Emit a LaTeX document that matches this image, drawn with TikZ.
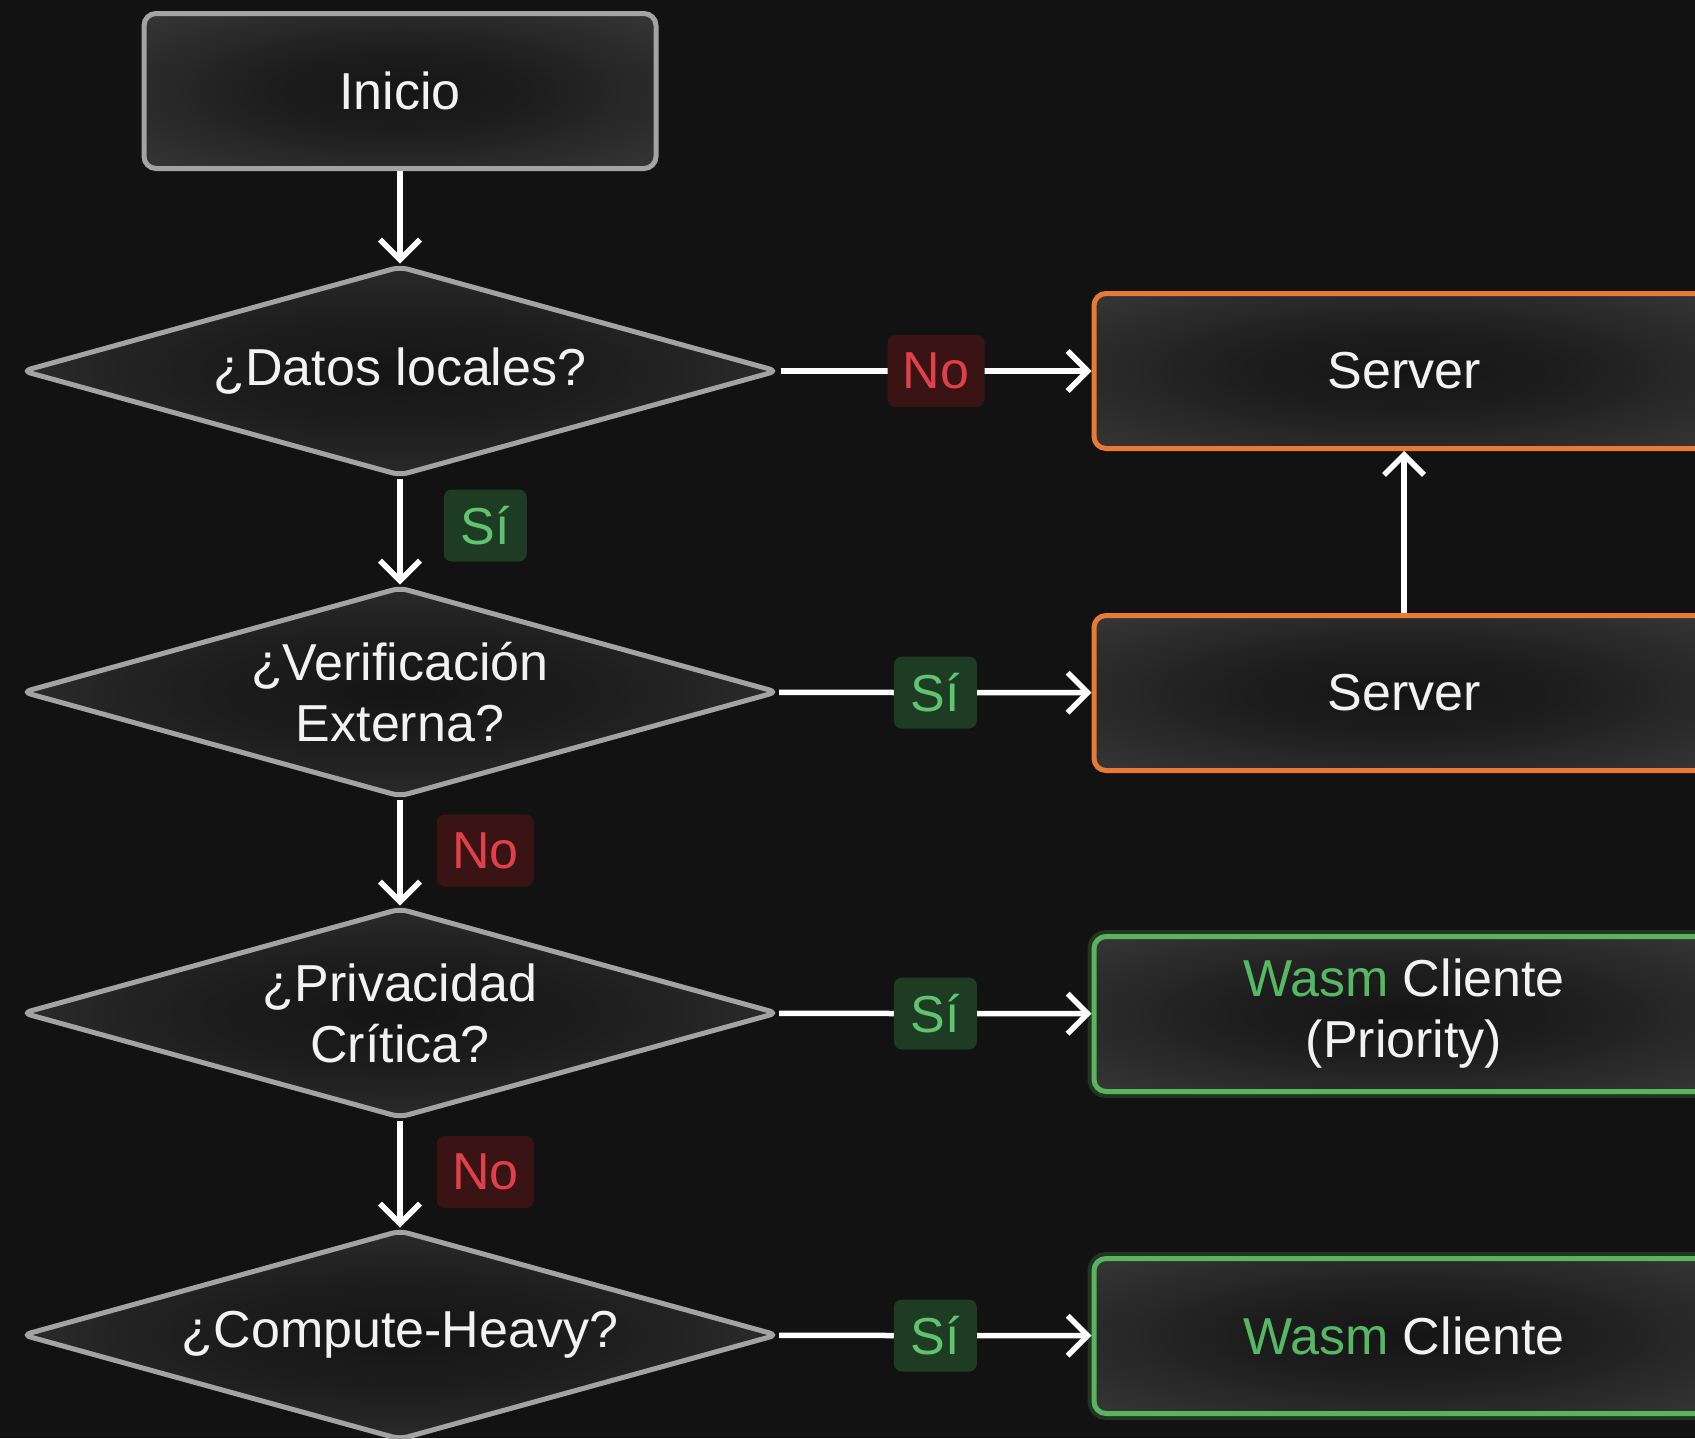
\documentclass[tikz,border=0pt]{standalone}
\usepackage{fontspec}
\setmainfont{Liberation Sans}
\usetikzlibrary{shapes.geometric,arrows.meta}

\definecolor{bg}{HTML}{121212}
\definecolor{fillcore}{HTML}{151515}
\definecolor{fillmid}{HTML}{1E1E1E}
\definecolor{filledge}{HTML}{474747}
\definecolor{fillcorner}{HTML}{575757}
\definecolor{greyline}{HTML}{A3A3A3}
\definecolor{orangeline}{HTML}{E87A34}
\definecolor{greenline}{HTML}{5AB45F}
\definecolor{wasmgreen}{HTML}{55B862}
\definecolor{nobg}{HTML}{3A1315}
\definecolor{nored}{HTML}{E0404A}
\definecolor{sibg}{HTML}{1D3C23}
\definecolor{sigreen}{HTML}{60C46E}
\definecolor{txt}{HTML}{F2F2F2}

% dark fill that brightens towards the edges
\pgfdeclareradialshading{nodeglow}{\pgfpoint{0bp}{0bp}}{%
  color(0bp)=(fillcore); color(14bp)=(fillmid); color(50bp)=(filledge); color(72bp)=(fillcorner)}

\tikzset{
  every node/.style={font=\fontsize{52}{61}\selectfont, text=txt},
  boxbase/.style={rectangle, rounded corners=12pt, line width=5pt,
    shading=nodeglow, minimum height=155pt, align=center},
  startbox/.style={boxbase, draw=greyline, minimum width=512pt},
  serverbox/.style={boxbase, draw=orangeline, minimum width=620pt},
  clientbox/.style={boxbase, draw=greenline, minimum width=620pt,
    preaction={draw=greenline, draw opacity=0.22, line width=13pt, rounded corners=12pt}},
  decision/.style={diamond, draw=greyline, line width=5pt, rounded corners=8pt,
    shading=nodeglow, minimum width=756pt, minimum height=210pt, inner sep=0pt},
  dtext/.style={align=center},
  flow/.style={draw=white, line width=5.5pt,
    -{Straight Barb[length=20pt,width=40pt,line width=5.5pt]}},
  nolab/.style={fill=nobg, text=nored, rounded corners=8pt, minimum width=97pt,
    minimum height=72pt, inner sep=0pt},
  silab/.style={fill=sibg, text=sigreen, rounded corners=8pt, minimum width=83pt,
    minimum height=72pt, inner sep=0pt},
}

\begin{document}
\begin{tikzpicture}[x=1pt,y=-1pt]
  \fill[bg] (0,0) rectangle (1695,1438);
  \useasboundingbox (0,0) rectangle (1695,1438);
  \clip (0,0) rectangle (1695,1438);

  % decision column
  \node[startbox] (start) at (400,91) {Inicio};
  \node[decision, label={[dtext]center:{¿Datos locales?}}] (d1) at (400,371) {};
  \node[decision, label={[dtext]center:{¿Verificación\\Externa?}}] (d2) at (400,692) {};
  \node[decision, label={[dtext]center:{¿Privacidad\\Crítica?}}] (d3) at (400,1013) {};
  \node[decision, label={[dtext]center:{¿Compute-Heavy?}}] (d4) at (400,1335) {};

  % outcomes
  \node[serverbox] (s1) at (1404,371) {Server};
  \node[serverbox] (s2) at (1404,693) {Server};
  \node[clientbox] (w1) at (1404,1014) {{\color{wasmgreen}Wasm} Cliente\\(Priority)};
  \node[clientbox] (w2) at (1404,1336) {{\color{wasmgreen}Wasm} Cliente};

  % connectors
  \draw[flow] (start) -- (d1);
  \draw[flow] (d1) -- node[nolab] (l1) {No} (s1);
  \draw[flow] (d1) -- node[silab, right=41pt, yshift=6pt] (l2) {Sí} (d2);
  \draw[flow] (d2) -- node[silab] (l3) {Sí} (s2);
  \draw[flow] (s2) -- (s1);
  \draw[flow] (d2) -- node[nolab, right=34pt, yshift=2pt] (l4) {No} (d3);
  \draw[flow] (d3) -- node[silab] (l5) {Sí} (w1);
  \draw[flow] (d3) -- node[nolab, right=34pt, yshift=2pt] (l6) {No} (d4);
  \draw[flow] (d4) -- node[silab] (l7) {Sí} (w2);
\end{tikzpicture}
\end{document}
